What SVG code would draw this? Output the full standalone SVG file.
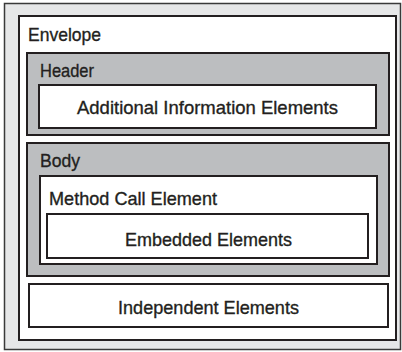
<svg xmlns="http://www.w3.org/2000/svg" width="402" height="352" viewBox="0 0 402 352">
<style>
.box{stroke:#231f20;stroke-width:2}
.w{fill:#ffffff}
.g{fill:#bcbec0}
text{font-family:"Liberation Sans",Arial,sans-serif;font-size:19px;fill:#231f20;stroke:#231f20;stroke-width:0.35}
.c{text-anchor:middle}
</style>
<rect x="0" y="0" width="402" height="352" fill="#ffffff"/>
<g id="frame"><rect x="4.5" y="3.5" width="396" height="346" fill="#e6e7e8" stroke="#3a3a3a" stroke-width="1.5"/></g>
<g id="envelope">
<rect class="box w" x="19" y="16" width="377" height="324"/>
<text x="28" y="40.5" textLength="73" lengthAdjust="spacingAndGlyphs">Envelope</text>
</g>
<g id="header">
<rect class="box g" x="27" y="53" width="362" height="82"/>
<text x="40" y="76.5" textLength="54" lengthAdjust="spacingAndGlyphs">Header</text>
</g>
<g id="additional">
<rect class="box w" x="39" y="85" width="337" height="43"/>
<text class="c" x="207.5" y="113.5" textLength="261" lengthAdjust="spacingAndGlyphs">Additional Information Elements</text>
</g>
<g id="body">
<rect class="box g" x="27" y="143" width="362" height="133"/>
<text x="40" y="167" textLength="40" lengthAdjust="spacingAndGlyphs">Body</text>
</g>
<g id="method">
<rect class="box w" x="40" y="176" width="337" height="88"/>
<text x="49" y="204.5" textLength="168" lengthAdjust="spacingAndGlyphs">Method Call Element</text>
</g>
<g id="embedded">
<rect class="box w" x="47" y="214" width="321" height="44"/>
<text class="c" x="208.5" y="245.5" textLength="167" lengthAdjust="spacingAndGlyphs">Embedded Elements</text>
</g>
<g id="independent">
<rect class="box w" x="29" y="284" width="359" height="43"/>
<text class="c" x="208.5" y="313.5" textLength="181" lengthAdjust="spacingAndGlyphs">Independent Elements</text>
</g>
<g id="connectors"></g>
</svg>
